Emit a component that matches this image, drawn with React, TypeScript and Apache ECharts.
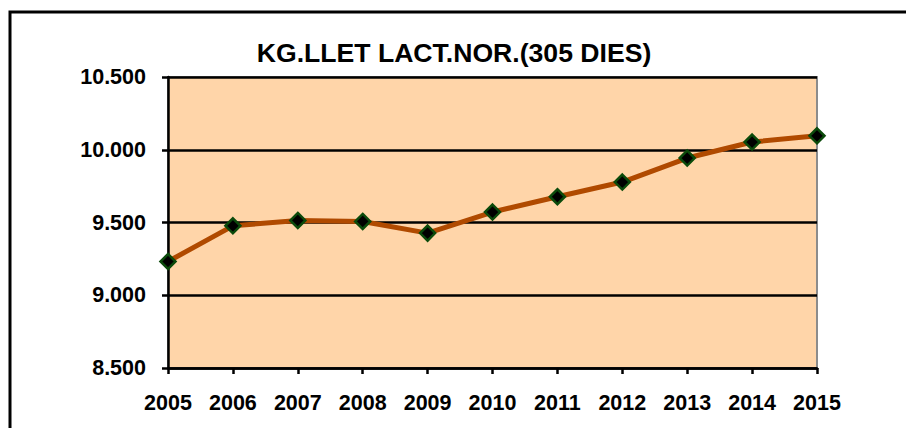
import React, { useEffect, useRef } from "react";
import * as echarts from "echarts";

const TITLE = "KG.LLET LACT.NOR.(305 DIES)";
const years = ["2005", "2006", "2007", "2008", "2009", "2010", "2011", "2012", "2013", "2014", "2015"];
const kgMilk = [9232, 9477, 9514, 9507, 9427, 9572, 9677, 9778, 9943, 10053, 10096];
const yMin = 8500;
const yMax = 10500;
const yStep = 500;

function fmt(v: number): string {
  const s = Math.round(v).toString();
  return s.replace(/\B(?=(\d{3})+(?!\d))/g, ".");
}

export default function App() {
  const ref = useRef<HTMLDivElement>(null);
  useEffect(() => {
    if (!ref.current) return;
    const chart = echarts.init(ref.current, null, { renderer: "svg" });
    const font = "'Liberation Sans', Arial, sans-serif";
    chart.setOption({
      animation: false,
      backgroundColor: "#ffffff",
      title: {
        text: TITLE,
        left: 449,
        textAlign: "center",
        top: 34,
        textStyle: { fontFamily: font, fontWeight: "bold", fontSize: 26.6, color: "#000" },
      },
      graphic: [
        {
          type: "rect",
          shape: { x: 10, y: 12, width: 1000, height: 1000 },
          style: { fill: "none", stroke: "#000", lineWidth: 3 },
          z: 100,
        },
      ],
      grid: {
        left: 168,
        top: 77,
        right: 89,
        bottom: 60,
        show: true,
        backgroundColor: "#FFD5A9",
        borderColor: "#8c8c8c",
        borderWidth: 2,
      },
      xAxis: {
        type: "category",
        data: years,
        boundaryGap: false,
        axisLine: { show: true, lineStyle: { color: "#000", width: 2.5 } },
        axisTick: { show: true, length: 6, lineStyle: { color: "#000", width: 2.5 } },
        axisLabel: {
          margin: 24,
          fontFamily: font,
          fontWeight: "bold",
          fontSize: 21.5,
          color: "#000",
        },
        splitLine: { show: false },
      },
      yAxis: {
        type: "value",
        min: yMin,
        max: yMax,
        interval: yStep,
        axisLine: { show: true, lineStyle: { color: "#000", width: 2.5 } },
        axisTick: { show: true, length: 6, lineStyle: { color: "#000", width: 2.5 } },
        axisLabel: {
          margin: 22,
          fontFamily: font,
          fontWeight: "bold",
          fontSize: 21.5,
          color: "#000",
          formatter: (v: number) => fmt(v),
        },
        splitLine: { show: true, lineStyle: { color: "#000", width: 2.5 } },
      },
      series: [
        {
          type: "line",
          data: kgMilk,
          symbol: "diamond",
          symbolSize: 15,
          lineStyle: { color: "#B04A00", width: 5 },
          itemStyle: { color: "#000", borderColor: "#0B4A0B", borderWidth: 2.5 },
          z: 10,
        },
      ],
    });
    return () => chart.dispose();
  }, []);
  return (
    <div
      ref={ref}
      style={{ position: "fixed", left: 0, top: 0, width: 906, height: 428 }}
    />
  );
}
